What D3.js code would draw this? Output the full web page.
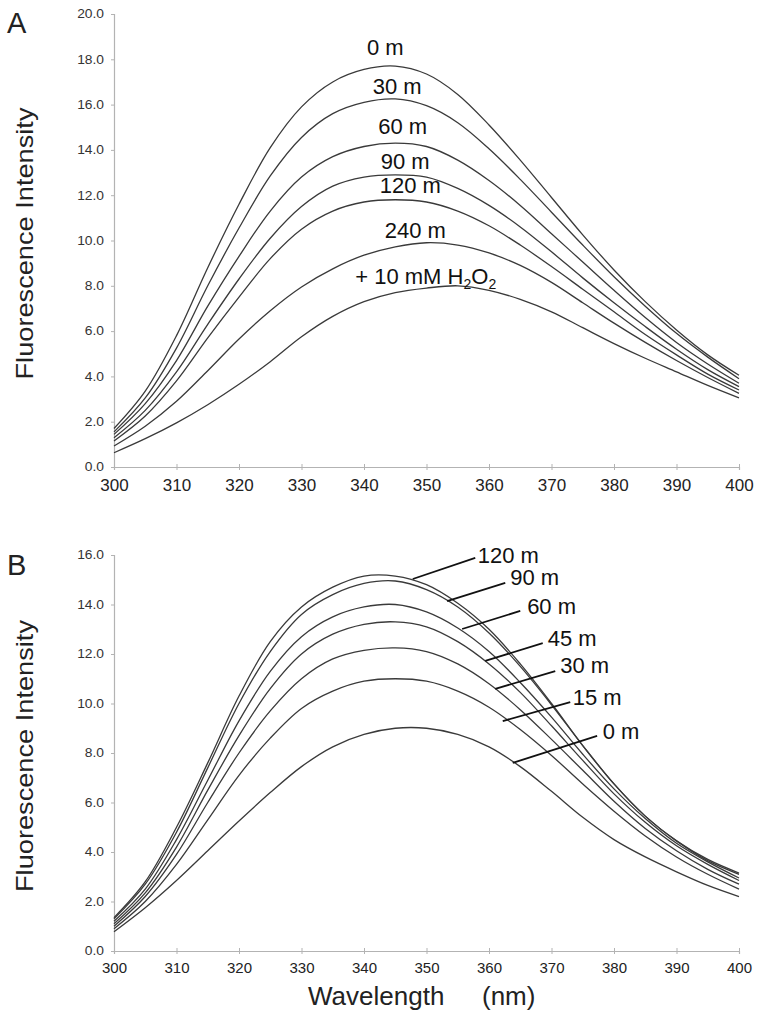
<!DOCTYPE html>
<html><head><meta charset="utf-8">
<script src="https://cdn.jsdelivr.net/npm/d3@7/dist/d3.min.js"></script>
<style>
html,body{margin:0;padding:0;background:#fff;}
text{font-family:"Liberation Sans",Arial,Helvetica,sans-serif;}
</style></head>
<body>
<svg id="chart" width="761" height="1020"></svg>
<script>
// ---------- DATA ----------
const wavelengths = [300,305,310,315,320,325,330,335,340,345,350,355,360,365,370,375,380,385,390,395,400];

// Panel A
const seriesA_names = ["0 m","30 m","60 m","90 m","120 m","240 m","H2O2"];
const A_0m   = [1.70,3.35,5.80,8.80,11.60,14.10,15.90,17.00,17.55,17.70,17.35,16.45,15.10,13.55,11.90,10.25,8.70,7.30,6.05,4.95,4.05];
const A_30m  = [1.55,3.05,5.25,8.00,10.55,12.85,14.55,15.60,16.10,16.25,15.95,15.20,14.05,12.70,11.25,9.80,8.40,7.10,5.90,4.85,3.90];
const A_60m  = [1.44,2.80,4.70,7.10,9.30,11.30,12.80,13.70,14.15,14.30,14.15,13.55,12.65,11.55,10.30,9.05,7.80,6.60,5.50,4.55,3.70];
const A_90m  = [1.29,2.50,4.20,6.30,8.30,10.10,11.50,12.40,12.80,12.90,12.80,12.30,11.55,10.60,9.50,8.35,7.25,6.20,5.20,4.30,3.55];
const A_120m = [1.15,2.25,3.80,5.70,7.50,9.20,10.50,11.30,11.70,11.80,11.70,11.30,10.65,9.80,8.85,7.85,6.85,5.85,4.95,4.10,3.40];
const A_240m = [0.93,1.80,2.90,4.25,5.65,6.90,7.95,8.75,9.35,9.72,9.90,9.80,9.45,8.90,8.15,7.25,6.35,5.50,4.70,3.95,3.25];
const A_H2O2 = [0.63,1.25,1.95,2.75,3.65,4.65,5.75,6.65,7.30,7.70,7.90,8.00,7.80,7.40,6.85,6.15,5.45,4.80,4.20,3.60,3.05];
const seriesA = [A_0m,A_30m,A_60m,A_90m,A_120m,A_240m,A_H2O2];

// labels A: text, x (nm), y (intensity)
const labelsA_text = ["0 m","30 m","60 m","90 m","120 m","240 m"];
const labelsA_nm   = [343.4,345.3,346.2,346.6,347.4,348.2];
const labelsA_val  = [18.19,16.47,14.70,13.16,12.10,10.11];
const labelH2O2_nm = 338.6, labelH2O2_val = 8.08;

// Panel B
const seriesB_names = ["120 m","90 m","60 m","45 m","30 m","15 m","0 m"];
const B_120m = [1.35,2.80,5.00,7.60,10.30,12.50,13.90,14.70,15.15,15.15,14.80,14.05,13.00,11.60,10.00,8.30,6.75,5.45,4.45,3.70,3.15];
const B_90m  = [1.30,2.70,4.80,7.40,10.00,12.10,13.60,14.40,14.85,14.95,14.60,13.90,12.85,11.50,9.95,8.30,6.75,5.45,4.45,3.65,3.10];
const B_60m  = [1.20,2.50,4.50,6.90,9.30,11.30,12.70,13.50,13.90,14.00,13.70,13.05,12.10,10.85,9.45,7.95,6.55,5.35,4.35,3.60,2.95];
const B_45m  = [1.10,2.35,4.20,6.50,8.70,10.60,12.00,12.80,13.20,13.30,13.10,12.50,11.60,10.45,9.10,7.70,6.35,5.20,4.25,3.50,2.85];
const B_30m  = [1.00,2.20,3.90,6.00,8.00,9.70,11.00,11.80,12.15,12.25,12.10,11.60,10.80,9.75,8.55,7.30,6.05,4.95,4.05,3.30,2.70];
const B_15m  = [0.90,2.00,3.50,5.30,7.10,8.60,9.80,10.50,10.90,11.00,10.90,10.50,9.85,8.95,7.90,6.75,5.65,4.65,3.80,3.10,2.50];
const B_0m   = [0.78,1.75,2.85,4.05,5.25,6.40,7.45,8.25,8.75,9.00,9.00,8.75,8.25,7.45,6.45,5.40,4.50,3.80,3.20,2.65,2.20];
const seriesB = [B_120m,B_90m,B_60m,B_45m,B_30m,B_15m,B_0m];

// leader annotations B (data units)
const leadB_start_nm  = [347.8,353.3,355.7,359.4,361.0,362.2,363.8];
const leadB_start_val = [15.03,14.14,13.01,11.72,10.59,9.29,7.60];
const leadB_end_nm    = [357.8,362.6,365.0,368.6,370.6,373.0,377.3];
const leadB_end_val   = [15.88,14.87,13.74,12.44,11.31,10.06,8.69];
const leadB_text_nm   = [358.2,363.4,366.1,369.4,371.4,373.4,378.2];
const leadB_text_val  = [15.68,14.79,13.62,12.32,11.23,9.94,8.57];

const yTicksA = [0,2,4,6,8,10,12,14,16,18,20];
const yTicksB = [0,2,4,6,8,10,12,14,16];
const xTicks  = [300,310,320,330,340,350,360,370,380,390,400];

// ---------- DRAW ----------
const svg = d3.select("#chart");
svg.append("rect").attr("width",761).attr("height",1020).attr("fill","#fff");

const axisColor = "#b3b3b3";
const curveColor = "#3a3a3a";

function panel(cfg){
  const g = svg.append("g");
  const x = d3.scaleLinear().domain([300,400]).range([114,739]);
  const y = d3.scaleLinear().domain(cfg.ydom).range(cfg.yrange);

  const ya = g.append("g").attr("transform","translate(114,0)")
    .call(d3.axisLeft(y).tickValues(cfg.yTicks).tickFormat(d3.format(".1f")).tickSize(3).tickPadding(7));
  ya.select(".domain").attr("stroke",axisColor).attr("stroke-width",1.2);
  ya.selectAll(".tick line").attr("stroke",axisColor);
  ya.selectAll("text").attr("font-size",12).attr("fill","#333")
    .each(function(){ const w=this.getComputedTextLength(); d3.select(this).attr("textLength",w*1.15).attr("lengthAdjust","spacingAndGlyphs");});

  const xa = g.append("g").attr("transform",`translate(0,${cfg.yrange[0]})`)
    .call(d3.axisBottom(x).tickValues(xTicks).tickFormat(d3.format("d")).tickSize(3).tickPadding(cfg.xpad));
  xa.select(".domain").attr("stroke",axisColor).attr("stroke-width",1.2);
  xa.selectAll(".tick line").attr("stroke",axisColor).attr("y1",-3);
  xa.selectAll("text").attr("font-size",cfg.xfs).attr("fill","#222");

  const line = d3.line().x((d,i)=>x(wavelengths[i])).y(d=>y(d)).curve(d3.curveCatmullRom.alpha(0.5));
  g.selectAll("path.curve").data(cfg.series).enter().append("path").attr("class","curve")
    .attr("d",line).attr("fill","none").attr("stroke",curveColor).attr("stroke-width",1.3);

  const cy = (cfg.yrange[0]+cfg.yrange[1])/2 + 3;
  g.append("text").attr("transform",`translate(33,${cy}) rotate(-90)`).attr("text-anchor","middle")
    .attr("font-size",24).attr("fill","#222").attr("textLength",272).attr("lengthAdjust","spacingAndGlyphs")
    .text("Fluorescence Intensity");

  g.append("text").attr("x",7).attr("y",cfg.letterY).attr("font-size",29).attr("fill","#222").text(cfg.letter);
  return {g,x,y};
}

const A = panel({ydom:[0,20], yrange:[467,14], yTicks:yTicksA, series:seriesA, letter:"A", letterY:33, xpad:9, xfs:17});
const B = panel({ydom:[0,16], yrange:[951,555], yTicks:yTicksB, series:seriesB, letter:"B", letterY:575, xpad:8, xfs:15});

A.g.selectAll("text.lab").data(labelsA_text).enter().append("text").attr("class","lab")
  .attr("x",(d,i)=>A.x(labelsA_nm[i])).attr("y",(d,i)=>A.y(labelsA_val[i]))
  .attr("text-anchor","middle").attr("font-size",22).attr("fill","#111").text(d=>d);
const h = A.g.append("text").attr("x",A.x(labelH2O2_nm)).attr("y",A.y(labelH2O2_val)).attr("font-size",22).attr("fill","#111");
h.append("tspan").text("+ 10 mM H");
h.append("tspan").attr("font-size",14).attr("dy",5).text("2");
h.append("tspan").attr("dy",-5).text("O");
h.append("tspan").attr("font-size",14).attr("dy",5).text("2");

B.g.selectAll("line.lead").data(seriesB_names).enter().append("line").attr("class","lead")
  .attr("x1",(d,i)=>B.x(leadB_start_nm[i])).attr("y1",(d,i)=>B.y(leadB_start_val[i]))
  .attr("x2",(d,i)=>B.x(leadB_end_nm[i])).attr("y2",(d,i)=>B.y(leadB_end_val[i]))
  .attr("stroke","#111").attr("stroke-width",1.8);
B.g.selectAll("text.lab").data(seriesB_names).enter().append("text").attr("class","lab")
  .attr("x",(d,i)=>B.x(leadB_text_nm[i])).attr("y",(d,i)=>B.y(leadB_text_val[i]))
  .attr("font-size",22).attr("fill","#111").text(d=>d);

svg.append("text").attr("x",308).attr("y",1005).attr("font-size",26).attr("fill","#222").text("Wavelength");
svg.append("text").attr("x",482).attr("y",1005).attr("font-size",26).attr("fill","#222").text("(nm)");
</script>
</body></html>
